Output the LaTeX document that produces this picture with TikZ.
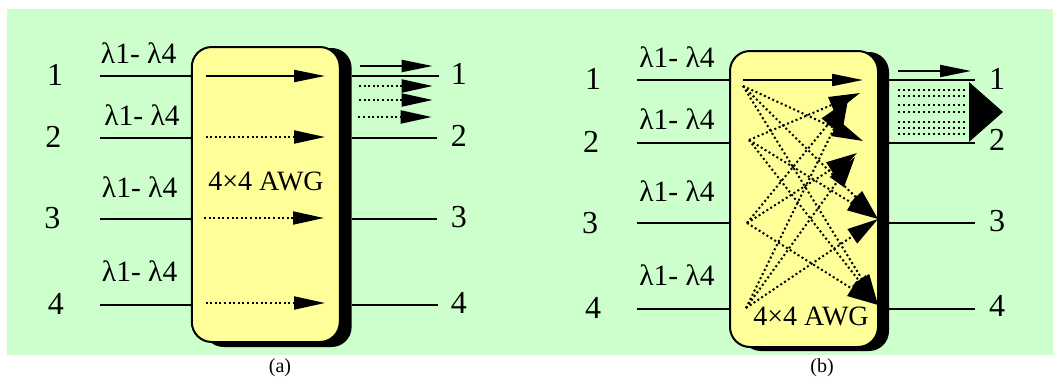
\documentclass[tikz,border=0pt]{standalone}
\usepackage{fontspec}
\setmainfont{Liberation Serif}
\usetikzlibrary{arrows.meta}
\definecolor{bggreen}{HTML}{CCFFCC}
\definecolor{boxyellow}{HTML}{FFFF99}
\tikzset{
  num/.style={inner sep=0pt,font=\fontsize{32}{32}\selectfont},
  lam/.style={inner sep=0pt,font=\fontsize{29.5}{30}\selectfont},
  awgtext/.style={inner sep=0pt,font=\fontsize{28}{28}\selectfont},
  subcap/.style={inner sep=0pt,font=\fontsize{20}{20}\selectfont},
  awg/.style={draw=black,line width=2pt,fill=boxyellow,rounded corners=20pt,inner sep=0pt,minimum width=148pt,minimum height=295pt},
  awgshadow/.style={fill=black,rounded corners=20pt,inner sep=0pt,minimum width=148pt,minimum height=299pt},
  fibre/.style={line width=2pt},
  sig/.style={line width=2pt,-{Triangle[length=31pt,width=12pt]}},
  dotsig/.style={line width=2pt,dash pattern=on 2pt off 2.6pt,-{Triangle[length=31pt,width=13pt]}},
  crosssig/.style={line width=2pt,dash pattern=on 2pt off 2.6pt,-{Triangle[length=31pt,width=17pt]}},
  dotrow/.style={line width=2pt,dash pattern=on 2pt off 3pt}
}
\begin{document}
\begin{tikzpicture}[x=1pt,y=-1pt]
    \useasboundingbox (0,0) rectangle (1053,378);
    \fill[bggreen] (7,9) rectangle (1053,355);

    % (a)
    \node[awgshadow] (shadowa) at (277.6,197.5) {};
    \node[awg] (boxa) at (265.8,194.5) {};
    \node[awgtext] (awga) at (266,181) {4×4 AWG};
    \node[subcap] (capa) at (280,368) {(a)};
    \foreach \i/\y/\nx/\rx/\lx/\ly in {1/76/55/439/138.6/53, 2/138/53.4/437/142/115, 3/219/52.4/437/139.6/187, 4/305/55.8/438/139.6/271} {
        \coordinate (ain\i) at (99.7,\y);
        \coordinate (aout\i) at (\rx,\y);
        \node[num] (anl\i) at (\nx,\y-1) {\i};
        \node[num] (anr\i) at (458.8,\y-2) {\i};
        \node[lam] (alam\i) at (\lx,\ly) {λ1- λ4};
        \draw[fibre] (ain\i) -- (ain\i -| boxa.west);
        \draw[fibre] (aout\i) -- (aout\i -| shadowa.east);
    }
    \coordinate (as1) at (205.5,76);  \coordinate (at1) at (325,76);
    \coordinate (as2) at (205.5,137); \coordinate (at2) at (325,137);
    \coordinate (as3) at (204,218);   \coordinate (at3) at (324,218);
    \coordinate (as4) at (205.5,303); \coordinate (at4) at (325,303);
    \draw[sig] (as1) -- (at1);
    \foreach \i in {2,3,4} \draw[dotsig] (as\i) -- (at\i);
    \coordinate (ao1) at (360,66);    \coordinate (ap1) at (432.7,66);
    \coordinate (ao2) at (359,86);    \coordinate (ap2) at (432.7,86);
    \coordinate (ao3) at (359,100);   \coordinate (ap3) at (432.7,100);
    \coordinate (ao4) at (358.4,117); \coordinate (ap4) at (431.7,117);
    \draw[sig] (ao1) -- (ap1);
    \foreach \i in {2,3,4} \draw[dotsig] (ao\i) -- (ap\i);

    % (b)
    \node[awgshadow] (shadowb) at (815,201.5) {};
    \node[awg,minimum height=296pt] (boxb) at (804,199) {};
    \node[awgtext] (awgb) at (811,316) {4×4 AWG};
    \node[subcap] (capb) at (822,368) {(b)};
    \foreach \i/\y/\nx/\ny/\ry/\ly in {1/80/593/79/79/57, 2/143/591/142/140/119, 3/223/590/223/221/191, 4/309/593/308/306/275} {
        \coordinate (bin\i) at (637,\y);
        \coordinate (bout\i) at (975,\y);
        \node[num] (bnl\i) at (\nx,\ny) {\i};
        \node[num] (bnr\i) at (997,\ry) {\i};
        \node[lam] (blam\i) at (677,\ly) {λ1- λ4};
        \draw[fibre] (bin\i) -- (bin\i -| boxb.west);
        \draw[fibre] (bout\i) -- (bout\i -| shadowb.east);
    }
    \coordinate (bs0) at (743,80);   \coordinate (bt0) at (863,80);
    \coordinate (bo0) at (898,71);   \coordinate (bp0) at (971,71);
    \draw[sig] (bs0) -- (bt0);
    \draw[sig] (bo0) -- (bp0);
    % crossing paths
    \coordinate (s1) at (743,86);
    \coordinate (s2) at (749,140);
    \coordinate (s3) at (747,223);
    \coordinate (s4) at (746,308);
    \coordinate (t1) at (860,93);
    \coordinate (t1b) at (848,100);
    \coordinate (t2) at (863,141);
    \coordinate (t2b) at (857,153);
    \coordinate (t2c) at (855,157);
    \coordinate (t3) at (878,219);
    \coordinate (t4) at (878,305);
    \foreach \a/\b in {s1/t2, s1/t3, s1/t4, s2/t1, s2/t3, s2/t4, s3/t2b, s3/t1b, s3/t4, s4/t1b, s4/t2c, s4/t3}
        \draw[crosssig] (\a) -- (\b);
    % merged output
    \foreach \y in {90,96,105,112,122,128,134} {
        \coordinate (rl\y) at (898,\y);
        \coordinate (rr\y) at (967,\y);
        \draw[dotrow] (rl\y) -- (rr\y);
    }
    \coordinate (hu) at (969,82);
    \coordinate (hd) at (969,142);
    \coordinate (ht) at (1003,112);
    \fill (hu) -- (ht) -- (hd) -- cycle;
\end{tikzpicture}
\end{document}
